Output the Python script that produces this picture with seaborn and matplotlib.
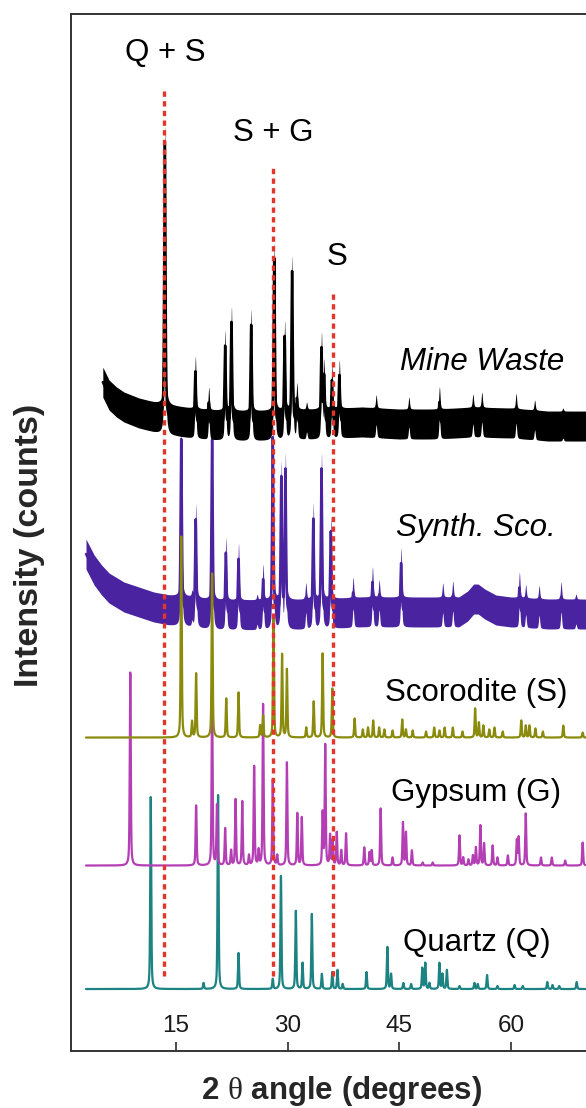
import numpy as np
import pandas as pd
import matplotlib
matplotlib.use('Agg')
import matplotlib.pyplot as plt
import seaborn as sns

# ---- data (2-theta in degrees, intensity in arbitrary counts) ----
quartz_pos = [11.6, 18.7, 20.65, 23.4, 28.0, 29.1, 31.1, 32.0, 33.25, 34.6, 36.0, 36.7, 37.4,
              40.6, 43.4, 43.9, 45.55, 46.6, 48.1, 48.5, 49.05, 50.4, 50.8, 51.4, 53.1, 55.1,
              55.55, 56.8, 58.2, 60.5, 61.6, 64.9, 65.6, 66.5, 68.85]
quartz_int = [192, 6, 194, 36, 10, 113, 78, 26, 75, 15, 17, 19, 5,
              17, 42, 15, 6, 5, 21, 26, 6, 26, 15, 19, 3, 6,
              5, 14, 3, 4, 3, 7, 4, 3, 7]

gypsum_pos = [8.85, 17.7, 19.85, 20.5, 21.6, 22.4, 23.0, 23.9, 24.8, 25.5, 26.1, 26.7, 28.0,
              28.6, 29.9, 31.3, 31.9, 34.7, 35.05, 35.7, 36.05, 36.6, 37.2, 37.85, 40.3, 41.0,
              41.3, 42.5, 44.1, 45.5, 45.9, 46.7, 48.15, 49.5, 53.1, 53.6, 54.3, 54.9, 55.3,
              55.9, 56.4, 57.55, 58.2, 59.6, 60.8, 61.05, 62.0, 64.05, 65.5, 67.3, 69.65]
gypsum_int = [193, 60, 170, 60, 37, 15, 66, 64, 10, 99, 15, 161, 86,
              10, 103, 52, 48, 52, 120, 30, 25, 33, 15, 32, 18, 13,
              15, 57, 8, 43, 33, 15, 3, 3, 30, 8, 6, 10, 18,
              40, 22, 20, 8, 10, 25, 28, 52, 8, 8, 5, 23]

scorodite_pos = [15.7, 17.15, 17.7, 19.85, 21.75, 23.4, 26.3, 26.7, 28.1, 29.25, 29.9, 32.5,
                 33.5, 34.7, 36.0, 39.0, 40.1, 40.8, 41.5, 42.3, 43.0, 44.1, 45.4, 45.9, 46.8,
                 48.6, 49.7, 50.4, 51.1, 52.2, 53.5, 55.2, 55.7, 56.3, 57.1, 57.8, 58.9, 61.4,
                 62.0, 62.5, 63.3, 64.3, 67.05, 69.65]
scorodite_int = [201, 16, 64, 164, 39, 45, 12, 22, 121, 83, 68, 10,
                 36, 84, 49, 19, 8, 10, 17, 10, 8, 7, 18, 8, 7,
                 6, 10, 7, 10, 10, 6, 29, 15, 12, 8, 10, 6, 17,
                 12, 12, 9, 6, 12, 5]

synth_pos = [15.7, 17.15, 17.65, 19.85, 21.7, 23.4, 25.9, 26.7, 28.0, 29.15, 29.7, 32.45, 33.45,
             34.55, 35.8, 38.8, 41.4, 42.3, 45.25, 50.85, 52.2, 61.15, 62.0, 63.8, 66.75, 68.75]
synth_int = [187, 20, 108, 190, 77, 71, 20, 50, 192, 151, 159, 31, 110,
             160, 97, 35, 45, 32, 64, 29, 31, 40, 28, 28, 32, 20]
synth_bg_pos = [2.9, 4, 5, 6, 8, 10, 12, 14, 17, 20, 25, 30, 35, 40, 45, 50, 53, 54.2, 55.0,
                55.6, 56.5, 58, 60, 65, 72]
synth_bg = [58, 42, 32, 24, 15, 10, 5, 2, 0, -3, -3, -3, -2, 0, 0, 0, 0, 6, 13, 13, 8, 2, 0, -2, -2]

mine_pos = [13.5, 17.6, 19.4, 21.6, 22.45, 25.1, 28.2, 29.6, 30.6, 31.25, 32.55, 34.55, 34.9,
            35.95, 36.95, 41.9, 46.3, 50.4, 54.9, 56.1, 60.7, 63.2, 67.0]
mine_int = [293, 67, 37, 94, 118, 116, 182, 103, 168, 40, 22, 90, 62,
            58, 63, 28, 27, 37, 28, 30, 30, 25, 18]
mine_bg_pos = [5.15, 6, 7, 8, 10, 12, 14, 17, 20, 25, 30, 35, 40, 45, 50, 55, 60, 65, 72]
mine_bg = [42, 29, 22, 17, 11, 7, 4, 1, -1, -2, -1, 0, 2, 0, 0, 2, 1, -2, -2]

marker_pos = [13.45, 28.0, 36.05]
marker_text = ['Q + S', 'S + G', 'S']


def profile(grid, pos, heights, fwhm):
    # pseudo-Voigt peaks on a 2-theta grid
    y = np.zeros_like(grid)
    for p, h in zip(pos, heights):
        d = (grid - p) / fwhm
        y += h * (0.5 / (1 + 4 * d ** 2) + 0.5 * np.exp(-4 * np.log(2) * d ** 2))
    return y


sns.set_style('ticks')
plt.rcParams['font.family'] = ['Liberation Sans', 'DejaVu Sans']
plt.rcParams['mathtext.fontset'] = 'custom'
plt.rcParams['mathtext.rm'] = 'Liberation Serif'

fig = plt.figure(figsize=(5.86, 11.08), dpi=100)
ax = fig.add_axes([0.1212, 0.0514, 0.8788, 0.9359])

grid = np.arange(2.9, 75, 0.01)
half_band = 15

# measured patterns drawn as thick noisy bands (underneath the reference patterns)
meas = [
    ('Synth. Sco.', synth_pos, synth_int, synth_bg_pos, synth_bg, 439, '#4a23a0', 2.9),
    ('Mine Waste', mine_pos, mine_int, mine_bg_pos, mine_bg, 627, '#000000', 5.15),
]
for name, pos, inten, bpos, bval, off, col, start in meas:
    g = grid[grid >= start]
    amp = np.array(inten) - half_band
    curve = off + np.interp(g, bpos, bval) + profile(g, pos, amp, 0.2)
    ax.fill_between(g, curve - half_band, curve + half_band, color=col, lw=0, zorder=2)
    sns.lineplot(x=g, y=curve, color=col, linewidth=1.8, estimator=None, sort=False,
                 ax=ax, zorder=2)

# reference (calculated) patterns, offset upward
refs = [
    ('Quartz (Q)', quartz_pos, quartz_int, 62, '#1d8282'),
    ('Gypsum (G)', gypsum_pos, gypsum_int, 185.5, '#b43fb5'),
    ('Scorodite (S)', scorodite_pos, scorodite_int, 313.5, '#8a8a0c'),
]
rows = []
for name, pos, inten, off, col in refs:
    rows.append(pd.DataFrame({'two_theta': grid,
                              'intensity': off + profile(grid, pos, inten, 0.16),
                              'pattern': name}))
ref_df = pd.concat(rows, ignore_index=True)
sns.lineplot(data=ref_df, x='two_theta', y='intensity', hue='pattern',
             palette={n: c for n, _, _, _, c in refs}, estimator=None, sort=False,
             linewidth=1.6, legend=False, ax=ax, zorder=3)

# red dashed marker lines
tops = [964, 883, 757]
for x, top in zip(marker_pos, tops):
    ax.plot([x, x], [75, top], color='#e5352a', lw=2.4, ls=(0, (1.6, 1.3)), zorder=5)

label_font = dict(fontsize=22.5, ha='center', va='center', color='black', zorder=6)
ax.text(13.5, 998, marker_text[0], **label_font)
ax.text(28.05, 918, marker_text[1], **label_font)
ax.text(36.6, 794, marker_text[2], **label_font)
ax.text(56.1, 689, 'Mine Waste', fontstyle='italic', **label_font)
ax.text(55.3, 523, 'Synth. Sco.', fontstyle='italic', **label_font)
ax.text(55.3, 358, 'Scorodite (S)', **label_font)
ax.text(55.35, 258, 'Gypsum (G)', **label_font)
ax.text(55.4, 108, 'Quartz (Q)', **label_font)

ax.set_xlim(0.887, 70.1)
ax.set_ylim(0, 1037)
ax.set_xticks([15, 30, 45, 60])
ax.set_yticks([])
ax.tick_params(axis='x', direction='in', length=6.5, width=1.1, pad=-26,
               labelsize=17.5, colors='#1a1a1a')
for side in ['left', 'top', 'bottom']:
    ax.spines[side].set_color('#333333')
    ax.spines[side].set_linewidth(1.4)
ax.spines['right'].set_visible(False)

ax.set_xlabel(r'2 $\mathrm{\theta}$ angle (degrees)', fontsize=22.5, fontweight='bold')
ax.set_ylabel('Intensity (counts)', fontsize=24.5, fontweight='bold')
ax.xaxis.set_label_coords(0.525, -0.0225)
ax.yaxis.set_label_coords(-0.05, 0.488)

fig.savefig('out.png', dpi=100)
